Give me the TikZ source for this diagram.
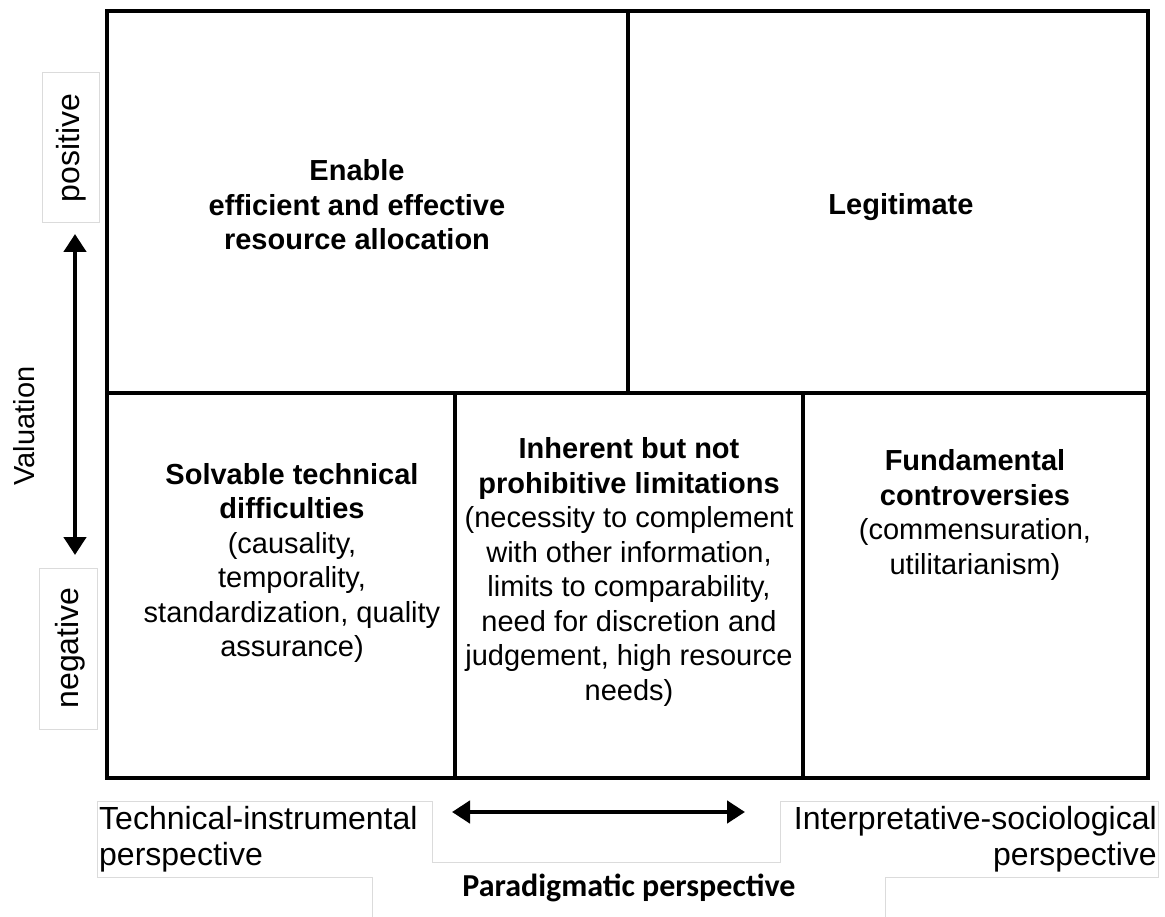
\documentclass[tikz,border=0pt]{standalone}
\usepackage{fontspec}
\setmainfont{Liberation Sans}
\newfontfamily\calib{Carlito}
\usetikzlibrary{arrows.meta}
\begin{document}
\begin{tikzpicture}[x=1pt,y=-1pt,
  frame/.style={line width=4.5pt, line join=miter},
  faint/.style={draw=black!14, line width=1pt},
  body/.style={font=\fontsize{29}{34.5}\selectfont, align=center, inner sep=0pt},
  side/.style={font=\fontsize{32}{36}\selectfont, inner sep=0pt},
  persp/.style={font=\fontsize{32}{36}\selectfont, inner sep=0pt},
  dbl/.style={line width=4.5pt, {Triangle[length=18pt,width=22pt]}-{Triangle[length=18pt,width=22pt]}}]
\useasboundingbox (0,0) rectangle (1165,917);
% faint text boxes
\draw[faint] (42,73) rectangle (99,223);
\draw[faint] (39,568) rectangle (97,729);
\draw[faint] (97,877) -- (97,801) -- (432,801) -- (432,862) -- (780,862) -- (780,801) -- (1158,801) -- (1158,877) -- (885,877) -- (885,917);
\draw[faint] (97,877) -- (372,877) -- (372,917);
% matrix frame
\draw[frame] (107,11) rectangle (1148,778);
\draw[frame] (107,393) -- (1148,393);
\draw[frame] (628,11) -- (628,393);
\draw[frame] (455,393) -- (455,778);
\draw[frame] (803,393) -- (803,778);
% cells
\node[body] (enable) at (357,205) {\textbf{Enable}\\\textbf{efficient and effective}\\\textbf{resource allocation}};
\node[body] (legit) at (901,207) {\textbf{Legitimate}};
\node[body] (solv) at (292,563) {\textbf{Solvable technical}\\\textbf{difficulties}\\(causality,\\temporality,\\standardization, quality\\assurance)};
\node[body] (inher) at (629,572) {\textbf{Inherent but not}\\\textbf{prohibitive limitations}\\(necessity to complement\\with other information,\\limits to comparability,\\need for discretion and\\judgement, high resource\\needs)};
\node[body] (fund) at (975,515) {\textbf{Fundamental}\\\textbf{controversies}\\(commensuration,\\utilitarianism)};
% valuation axis
\node[side, rotate=90] (pos) at (71,148) {positive};
\node[side, rotate=90] (neg) at (70,648) {negative};
\node[font=\fontsize{29}{34}\selectfont, rotate=90, inner sep=0pt] (val) at (24,426) {Valuation};
\coordinate (vtop) at (75,234);
\coordinate (vbot) at (75,555);
\draw[dbl] (vtop) -- (vbot);
% paradigm axis
\node[persp, anchor=north west, align=left] (tech) at (99,806) {Technical-instrumental\\perspective};
\node[persp, anchor=north east, align=right] (interp) at (1157,806) {Interpretative-sociological\\perspective};
\coordinate (hl) at (452,812);
\coordinate (hr) at (745,812);
\draw[dbl] (hl) -- (hr);
\node[font=\calib\bfseries\fontsize{32}{36}\selectfont, inner sep=0pt] (para) at (629,888) {Paradigmatic perspective};
\end{tikzpicture}
\end{document}
